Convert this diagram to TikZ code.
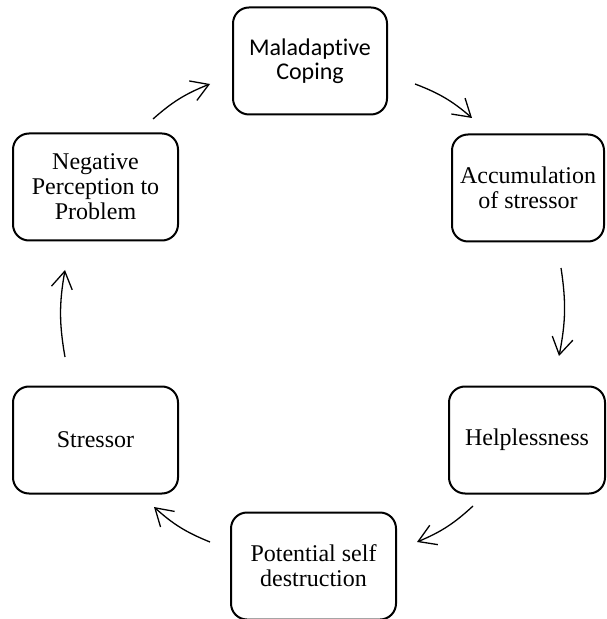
\documentclass[tikz,border=0pt]{standalone}
\usepackage{fontspec}
\setmainfont{Liberation Serif}
\newfontfamily\calibri[RawFeature={-liga;-clig;-dlig}]{Carlito}
\usetikzlibrary{arrows.meta}

\begin{document}
\begin{tikzpicture}[
  x=0.5pt, y=-0.5pt,
  stage/.style={
    draw,
    line width=1pt,
    rounded corners=8pt,
    minimum width=80pt,
    minimum height=53.5pt,
    align=center,
    inner sep=2pt,
    font=\fontsize{12}{12.5}\selectfont
  },
  flow/.style={
    line width=0.65pt,
    -{Straight Barb[length=8.5pt,width=10.5pt]},
    bend left=10
  }
]
\useasboundingbox (0,0) rectangle (606,619);
\clip (0,0) rectangle (606,619);

\node[stage,minimum width=77pt,font=\calibri\fontsize{12}{12}\selectfont]
  (mal) at (310,61) {Maladaptive\\Coping};
\node[stage,minimum width=76pt] (acc) at (528,188) {Accumulation\\of stressor};
\node[stage,minimum width=78pt] (help) at (527,440) {Helplessness};
\node[stage,minimum width=82.5pt] (psd) at (313.5,566) {Potential self\\destruction};
\node[stage,minimum width=82.5pt] (stress) at (95.5,440) {Stressor};
\node[stage,minimum width=82.5pt] (neg) at (95.5,187) {Negative\\Perception to\\Problem};

% arrow ends, kept clear of the boxes
\coordinate (negout) at (153,119);
\coordinate (malin) at (210,84);
\coordinate (malout) at (415,84);
\coordinate (accin) at (472,118);
\coordinate (accout) at (561,268);
\coordinate (helpin) at (559,356);
\coordinate (helpout) at (473,506);
\coordinate (psdin) at (417,542);
\coordinate (psdout) at (210,542);
\coordinate (stressin) at (154,507);
\coordinate (stressout) at (65,357);
\coordinate (negin) at (65,270);

\draw[flow] (negout) to (malin);
\draw[flow] (malout) to (accin);
\draw[flow] (accout) to (helpin);
\draw[flow] (helpout) to (psdin);
\draw[flow] (psdout) to (stressin);
\draw[flow] (stressout) to (negin);
\end{tikzpicture}
\end{document}
